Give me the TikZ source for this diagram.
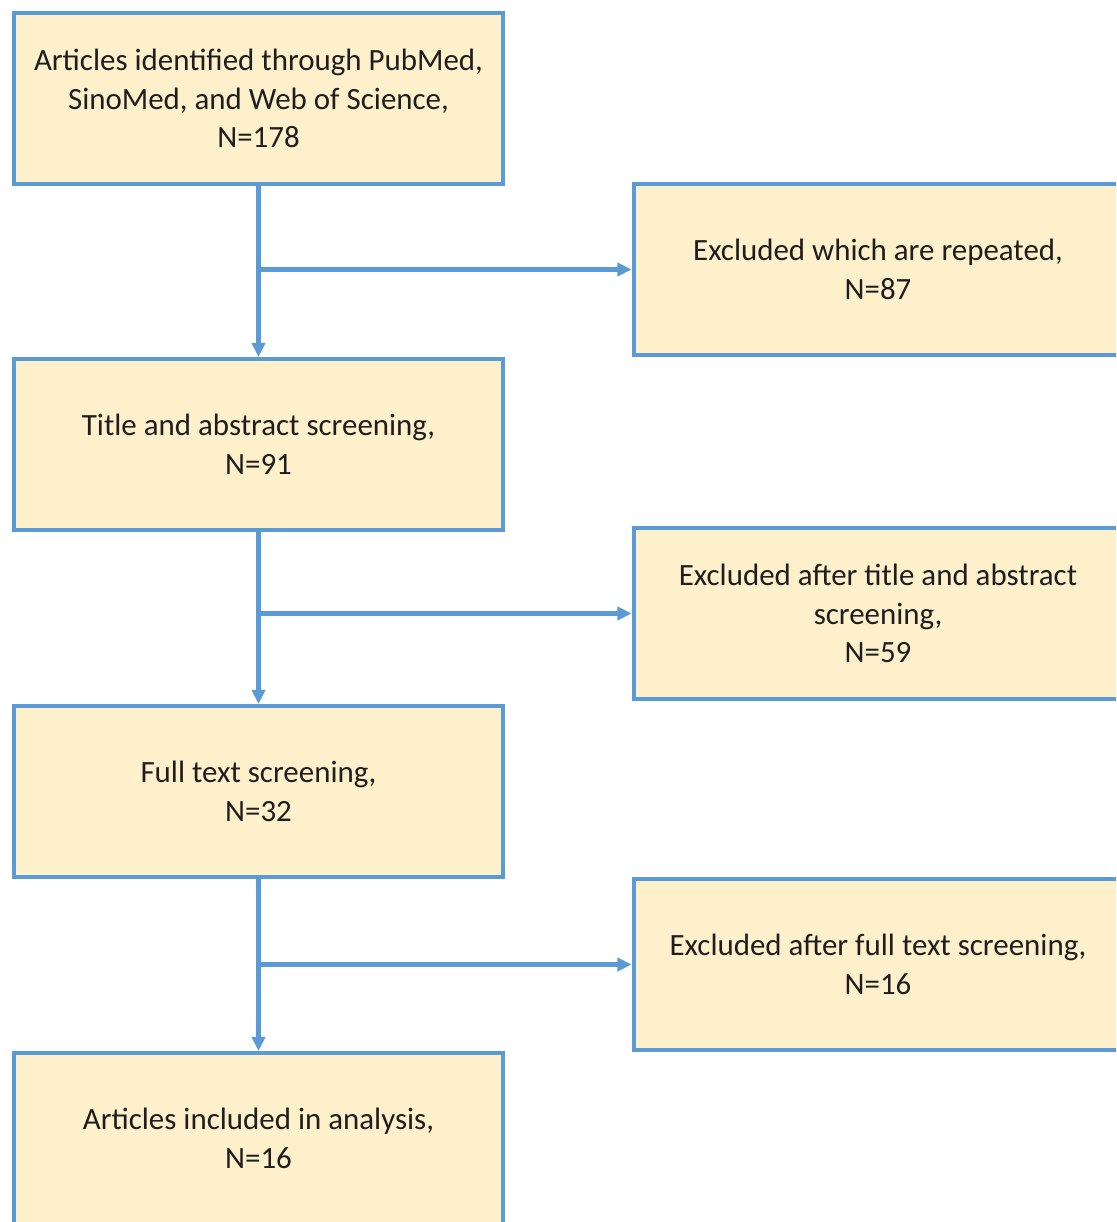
\documentclass[tikz,border=0pt]{standalone}
\usepackage{fontspec}
\setmainfont{Carlito}
\usepackage{tikz}
\usetikzlibrary{arrows.meta}
\usepackage{xcolor}
\definecolor{boxfill}{HTML}{FFF0CC}
\definecolor{boxline}{HTML}{5B9BD5}
\definecolor{boxtext}{HTML}{1E1E1E}

\begin{document}
\begin{tikzpicture}[x=0.02cm,y=-0.02cm,
  stage/.style={draw=boxline,fill=boxfill,line width=2.3pt,text=boxtext,
    minimum width=9.78cm,minimum height=3.42cm,inner sep=0pt,align=center,
    font=\fontsize{17.6}{21.9}\selectfont},
  flow/.style={draw=boxline,line width=2.3pt,-{Triangle[length=8pt,width=7.5pt]}}]
  \useasboundingbox (0,0) rectangle (1116,1222);
  \clip (0,0) rectangle (1116,1222);

  \node[stage] (found) at (258.5,98.5) {Articles identified through PubMed,\\SinoMed, and Web of Science,\\N=178};
  \node[stage] (title) at (258.5,444.5) {Title and abstract screening,\\N=91};
  \node[stage] (full) at (258.5,791.5) {Full text screening,\\N=32};
  \node[stage] (incl) at (258.5,1138.5) {Articles included in analysis,\\N=16};

  \node[stage] (rep) at (878,269.5) {Excluded which are repeated,\\N=87};
  \node[stage] (extitle) at (878,613.5) {Excluded after title and abstract\\screening,\\N=59};
  \node[stage] (exfull) at (878,964.5) {Excluded after full text screening,\\N=16};

  \draw[flow] (found) -- (title);
  \draw[flow] (title) -- (full);
  \draw[flow] (full) -- (incl);

  \draw[flow] (found.south |- rep.west) -- (rep.west);
  \draw[flow] (title.south |- extitle.west) -- (extitle.west);
  \draw[flow] (full.south |- exfull.west) -- (exfull.west);

\end{tikzpicture}
\end{document}
